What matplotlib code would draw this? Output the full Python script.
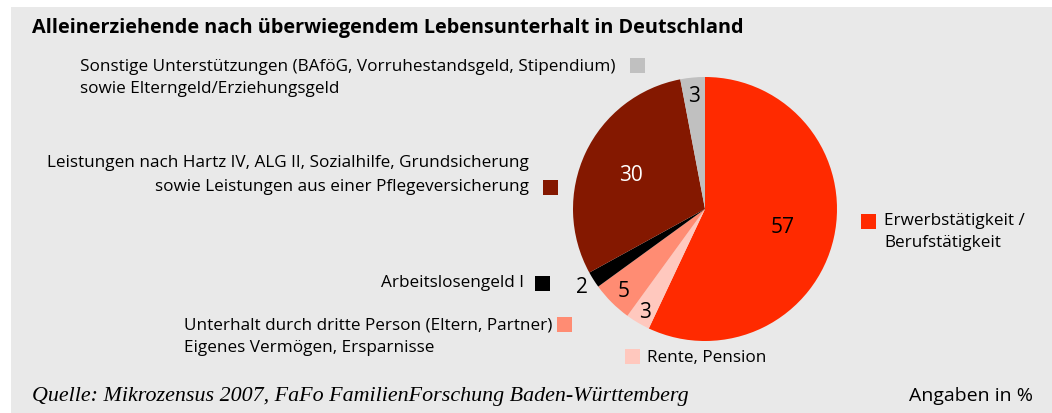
import numpy as np
import matplotlib
matplotlib.use('Agg')
import matplotlib.pyplot as plt
from matplotlib.patches import Rectangle

# slices, clockwise from 12 o'clock
values = [57, 3, 5, 2, 30, 3]
colors = ['#ff2a00', '#ffc8be', '#ff8c73', '#000000', '#841800', '#c0c0c0']
label_colors = ['black', 'black', 'black', 'black', 'white', 'black']
label_radius = [0.6, 0.9, 0.87, 1.1, 0.62, 0.86]

title = 'Alleinerziehende nach überwiegendem Lebensunterhalt in Deutschland'
source = 'Quelle: Mikrozensus 2007, FaFo FamilienForschung Baden-Württemberg'

W, H = 1052, 414
plt.rcParams['font.family'] = ['Open Sans', 'DejaVu Sans']

fig = plt.figure(figsize=(W / 100, H / 100), dpi=100)
fig.patch.set_facecolor('white')
fig.patches.append(Rectangle((11 / W, 0), 1 - 11 / W, 1 - 8 / H, transform=fig.transFigure,
                             facecolor='#e9e9e9', edgecolor='none', zorder=-5))


def fx(x):
    return x / W


def fy(y):
    return 1 - y / H


# pie
cx, cy, r = 705, 210, 132
ax = fig.add_axes([fx(cx - r), fy(cy + r), 2 * r / W, 2 * r / H])
wedges, _ = ax.pie(values, colors=colors, startangle=90, counterclock=False, radius=1,
                   wedgeprops=dict(linewidth=0))
ax.set_xlim(-1, 1)
ax.set_ylim(-1, 1)
ax.set_aspect('auto')
ax.axis('off')
for w, v, c, k in zip(wedges, values, label_colors, label_radius):
    ang = np.deg2rad((w.theta1 + w.theta2) / 2)
    ax.text(k * np.cos(ang), k * np.sin(ang), str(v), ha='center', va='center',
            fontsize=15, color=c)

fig.text(fx(32), fy(28), title, fontsize=14.3, fontweight='bold', va='center', ha='left')


def square(x, y, color):
    fig.patches.append(Rectangle((fx(x), fy(y + 15)), 15 / W, 15 / H, transform=fig.transFigure,
                                 facecolor=color, edgecolor='none'))


ts = 12.3
# Sonstige
fig.text(fx(80), fy(67), 'Sonstige Unterstützungen (BAföG, Vorruhestandsgeld, Stipendium)',
         fontsize=ts, va='center')
fig.text(fx(80), fy(89), 'sowie Elterngeld/Erziehungsgeld', fontsize=ts, va='center')
square(630, 59, colors[5])
# Hartz IV
fig.text(fx(529), fy(163), 'Leistungen nach Hartz IV, ALG II, Sozialhilfe, Grundsicherung',
         fontsize=ts, va='center', ha='right')
fig.text(fx(529), fy(187), 'sowie Leistungen aus einer Pflegeversicherung',
         fontsize=ts, va='center', ha='right')
square(543, 181, colors[4])
# ALG I
fig.text(fx(524), fy(283), 'Arbeitslosengeld I', fontsize=ts, va='center', ha='right')
square(535, 277, colors[3])
# Unterhalt
fig.text(fx(184), fy(325), 'Unterhalt durch dritte Person (Eltern, Partner)', fontsize=ts, va='center')
fig.text(fx(184), fy(348), 'Eigenes Vermögen, Ersparnisse', fontsize=ts, va='center')
square(557, 318, colors[2])
# Rente
square(625, 350, colors[1])
fig.text(fx(647), fy(358), 'Rente, Pension', fontsize=ts, va='center')
# Erwerb
square(861, 215, colors[0])
fig.text(fx(884), fy(221), 'Erwerbstätigkeit /', fontsize=ts, va='center')
fig.text(fx(884), fy(243), 'Berufstätigkeit', fontsize=ts, va='center')

fig.text(fx(32), fy(397), source, fontsize=15.8, va='center', style='italic',
         family=['Liberation Serif', 'DejaVu Serif'])
fig.text(fx(1033), fy(396), 'Angaben in %', fontsize=14, va='center', ha='right')

fig.savefig('out.png', dpi=100)
